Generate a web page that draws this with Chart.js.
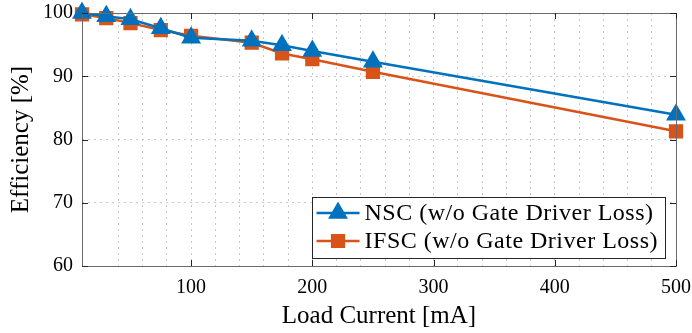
<!DOCTYPE html>
<html>
<head>
<meta charset="utf-8">
<script src="https://cdn.jsdelivr.net/npm/chart.js@4"></script>
<style>
  html, body { margin: 0; padding: 0; background: #fff; }
  #wrap { width: 692px; height: 333px; }
</style>
</head>
<body>
<div id="wrap"><canvas id="effChart"></canvas></div>
<script>
// data
const loadCurrent = [10, 30, 50, 75, 100, 150, 175, 200, 250, 500]; // mA
const nscEff  = [100, 99.5, 99.0, 97.6, 96.1, 95.6, 94.9, 94.0, 92.3, 83.9];
const ifscEff = [99.8, 99.2, 98.4, 97.3, 96.4, 95.3, 93.6, 92.7, 90.7, 81.3];
const seriesNames = ['NSC (w/o Gate Driver Loss)', 'IFSC (w/o Gate Driver Loss)'];
const xTickLabels = [100, 200, 300, 400, 500];
const yTickLabels = [60, 70, 80, 90, 100];

const blue = '#0072BD';
const orange = '#D95319';
const serif = "'Liberation Serif', 'Times New Roman', serif";

// box, inward ticks and the legend inside the axes (matlab look)
const axesBox = {
  id: 'axesBox',
  afterDatasetsDraw(chart) {
    const { ctx, chartArea: a, scales: { x, y } } = chart;
    ctx.save();
    ctx.strokeStyle = '#6a6a6a';
    ctx.lineWidth = 1;
    ctx.strokeRect(Math.round(a.left) + 0.5, Math.round(a.top) + 0.5,
      Math.round(a.right - a.left), Math.round(a.bottom - a.top));
    ctx.strokeStyle = '#262626';
    ctx.beginPath();
    xTickLabels.forEach(v => {
      const px = Math.round(x.getPixelForValue(v)) + 0.5;
      ctx.moveTo(px, a.bottom); ctx.lineTo(px, a.bottom - 6);
      ctx.moveTo(px, a.top); ctx.lineTo(px, a.top + 6);
    });
    yTickLabels.forEach(v => {
      const py = Math.round(y.getPixelForValue(v)) + 0.5;
      ctx.moveTo(a.left, py); ctx.lineTo(a.left + 6, py);
      ctx.moveTo(a.right, py); ctx.lineTo(a.right - 6, py);
    });
    ctx.stroke();
    ctx.restore();
  },
  afterDraw(chart) {
    const { ctx, chartArea: a } = chart;
    const sets = chart.data.datasets;
    ctx.save();
    ctx.font = '24px ' + serif;
    ctx.letterSpacing = '0.5px';
    const textW = Math.max(...sets.map(d => ctx.measureText(d.label).width));
    const w = 53 + textW + 7, h = 61;
    const left = a.right - 11 - w, top = a.bottom - 8 - h;
    ctx.fillStyle = '#fff';
    ctx.fillRect(left, top, w, h);
    ctx.strokeStyle = '#262626';
    ctx.lineWidth = 1;
    ctx.strokeRect(Math.round(left) + 0.5, Math.round(top) + 0.5, Math.round(w), h);
    sets.forEach((d, i) => {
      const cy = top + 16 + i * 28;
      ctx.strokeStyle = d.borderColor;
      ctx.lineWidth = 2.5;
      ctx.beginPath();
      ctx.moveTo(left + 5, cy); ctx.lineTo(left + 48, cy);
      ctx.stroke();
      ctx.fillStyle = d.pointBackgroundColor;
      ctx.lineWidth = 1.5;
      Chart.helpers.drawPoint(ctx, {
        pointStyle: d.pointStyle, radius: d.pointRadius, borderWidth: 1.5
      }, left + 26.5, cy);
      ctx.fillStyle = '#000';
      ctx.textBaseline = 'middle';
      ctx.textAlign = 'left';
      ctx.fillText(d.label, left + 53, cy + 1);
    });
    ctx.restore();
  }
};

new Chart(document.getElementById('effChart'), {
  type: 'line',
  data: {
    datasets: [
      {
        label: seriesNames[0],
        data: loadCurrent.map((c, i) => ({ x: c, y: nscEff[i] })),
        borderColor: blue,
        backgroundColor: blue,
        pointBackgroundColor: blue,
        pointBorderColor: blue,
        borderWidth: 2.5,
        pointStyle: 'triangle',
        pointRadius: 10,
        pointBorderWidth: 1.5,
        clip: false
      },
      {
        label: seriesNames[1],
        data: loadCurrent.map((c, i) => ({ x: c, y: ifscEff[i] })),
        borderColor: orange,
        backgroundColor: orange,
        pointBackgroundColor: orange,
        pointBorderColor: orange,
        borderWidth: 2.5,
        pointStyle: 'rect',
        pointRadius: 9,
        pointBorderWidth: 1.5,
        clip: false
      }
    ]
  },
  options: {
    responsive: true,
    maintainAspectRatio: false,
    animation: false,
    layout: { padding: { left: 0, right: 16, top: 13, bottom: 0 } },
    plugins: { legend: { display: false }, tooltip: { enabled: false } },
    scales: {
      x: {
        type: 'linear',
        min: 10,
        max: 500,
        afterFit(scale) {
          scale.height = 67;
          scale.paddingLeft = 0;
          scale.paddingRight = 0;
        },
        ticks: {
          stepSize: 20,
          autoSkip: false,
          maxRotation: 0,
          padding: 10,
          color: '#000',
          font: { family: serif, size: 20 },
          callback: v => xTickLabels.includes(v) ? String(v) : ''
        },
        grid: { color: '#c8c8c8', lineWidth: 1, drawTicks: false },
        border: { display: false, dash: [2, 4] },
        title: {
          display: true,
          text: 'Load Current [mA]',
          color: '#000',
          font: { family: serif, size: 25 },
          padding: { top: 0, bottom: 2 }
        }
      },
      y: {
        min: 60,
        max: 100,
        afterFit(scale) {
          scale.width = 82;
          scale.paddingTop = 0;
          scale.paddingBottom = 0;
        },
        ticks: {
          stepSize: 10,
          autoSkip: false,
          padding: 9,
          color: '#000',
          font: { family: serif, size: 20 },
          callback: v => yTickLabels.includes(v) ? String(v) : ''
        },
        grid: { color: '#c8c8c8', lineWidth: 1, drawTicks: false },
        border: { display: false, dash: [2, 4] },
        title: {
          display: true,
          text: 'Efficiency [%]',
          color: '#000',
          font: { family: serif, size: 25 },
          padding: { top: 6, bottom: 0 }
        }
      }
    }
  },
  plugins: [axesBox]
});
</script>
</body>
</html>
